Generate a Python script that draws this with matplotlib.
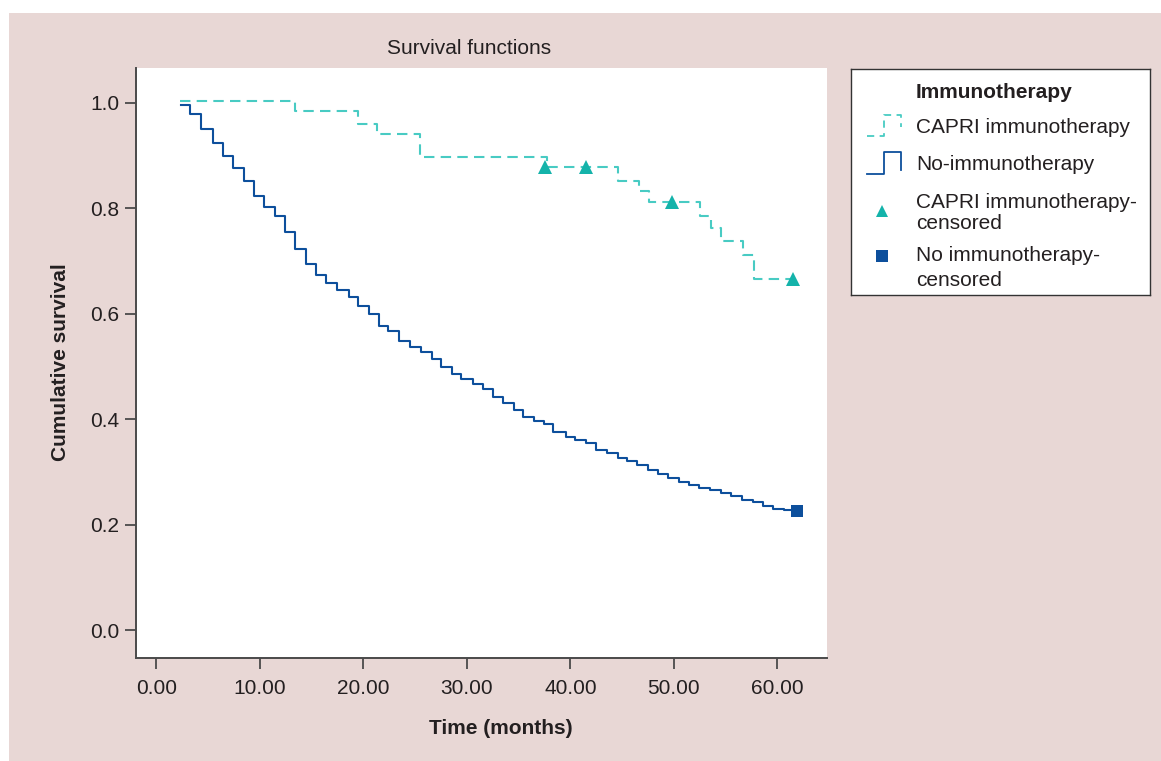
import matplotlib
matplotlib.use('Agg')
import matplotlib.pyplot as plt
from matplotlib.patches import Rectangle

plt.rcParams['font.family'] = ['Liberation Sans', 'DejaVu Sans']

# ---------------- data ----------------
no_immuno_times = [2.38, 3.28, 4.34, 5.44, 6.43, 7.40, 8.46, 9.40, 10.43, 11.49,
                   12.45, 13.36, 14.43, 15.42, 16.39, 17.45, 18.58, 19.45, 20.51, 21.51,
                   22.38, 23.47, 24.53, 25.54, 26.60, 27.53, 28.56, 29.43, 30.56, 31.53,
                   32.49, 33.49, 34.52, 35.39, 36.48, 37.45, 38.35, 39.55, 40.47, 41.51,
                   42.47, 43.54, 44.57, 45.44, 46.43, 47.55, 48.46, 49.46, 50.49, 51.49,
                   52.45, 53.52, 54.55, 55.55, 56.55, 57.61, 58.61, 59.60, 60.61]
no_immuno_surv = [0.995, 0.978, 0.950, 0.923, 0.899, 0.877, 0.852, 0.823, 0.802, 0.785,
                  0.755, 0.722, 0.695, 0.674, 0.658, 0.645, 0.632, 0.615, 0.599, 0.577,
                  0.567, 0.548, 0.536, 0.527, 0.515, 0.499, 0.486, 0.476, 0.466, 0.457,
                  0.442, 0.430, 0.418, 0.405, 0.397, 0.390, 0.376, 0.367, 0.361, 0.354,
                  0.342, 0.335, 0.327, 0.320, 0.313, 0.303, 0.296, 0.289, 0.280, 0.275,
                  0.270, 0.265, 0.260, 0.254, 0.247, 0.242, 0.235, 0.230, 0.227]
no_immuno_end = 61.89
no_immuno_censor_t = [61.89]
no_immuno_censor_s = [0.226]

capri_times = [2.28, 13.36, 19.51, 21.31, 25.47, 37.71, 44.57, 46.63, 47.59,
               52.55, 53.56, 54.58, 56.65, 57.74]
capri_surv = [1.004, 0.985, 0.959, 0.940, 0.898, 0.878, 0.851, 0.832, 0.812,
              0.785, 0.762, 0.738, 0.712, 0.666]
capri_end = 61.54
capri_censor_t = [37.57, 41.51, 49.79, 61.54]
capri_censor_s = [0.878, 0.878, 0.812, 0.666]

x_ticks = [0, 10, 20, 30, 40, 50, 60]
x_ticklabels = ['0.00', '10.00', '20.00', '30.00', '40.00', '50.00', '60.00']
y_ticks = [0.0, 0.2, 0.4, 0.6, 0.8, 1.0]
y_ticklabels = ['0.0', '0.2', '0.4', '0.6', '0.8', '1.0']

title = 'Survival functions'
xlabel = 'Time (months)'
ylabel = 'Cumulative survival'
legend_title = 'Immunotherapy'

# ---------------- style ----------------
W, H = 1161, 761
PINK = '#e8d7d5'
TXT = '#231f20'
AXC = '#4a4a4a'
CYAN_LINE = '#48cbc3'
CYAN_MARK = '#14b3aa'
BLUE = '#0d4f9c'
FS = 15

fig = plt.figure(figsize=(W / 100, H / 100), dpi=100, facecolor='white')
fig.patches.append(Rectangle((9 / W, 0), 1 - 9 / W, (H - 13) / H,
                             transform=fig.transFigure, facecolor=PINK,
                             edgecolor='none', zorder=-10))

def fx(px):
    return px / W

def fy(py):
    return (H - py) / H

ax = fig.add_axes([fx(136), fy(658), (827 - 136) / W, (658 - 68) / H])
ax.set_facecolor('white')
ax.set_xlim(-1.97, 64.8)
ax.set_ylim(-0.053, 1.066)

# step curves
ax.plot(no_immuno_times + [no_immuno_end], no_immuno_surv + [no_immuno_surv[-1]],
        drawstyle='steps-post', color=BLUE, lw=1.5, zorder=3)
ax.plot(capri_times + [capri_end], capri_surv + [capri_surv[-1]],
        drawstyle='steps-post', color=CYAN_LINE, lw=1.5, dashes=(5, 3), zorder=3)
ax.plot(capri_censor_t, capri_censor_s, linestyle='none', marker='^',
        markersize=9.5, color=CYAN_MARK, markeredgewidth=0, zorder=4)
ax.plot(no_immuno_censor_t, no_immuno_censor_s, linestyle='none', marker='s',
        markersize=9, color=BLUE, markeredgewidth=0, zorder=4)

for s in ['top', 'right']:
    ax.spines[s].set_visible(False)
for s in ['left', 'bottom']:
    ax.spines[s].set_color(AXC)
    ax.spines[s].set_linewidth(1.4)

ax.set_xticks(x_ticks)
ax.set_xticklabels(x_ticklabels)
ax.set_yticks(y_ticks)
ax.set_yticklabels(y_ticklabels)
ax.tick_params(axis='x', direction='out', length=8, width=1.3, color=AXC,
               labelsize=FS, labelcolor=TXT, pad=7)
ax.tick_params(axis='y', direction='out', length=8, width=1.3, color=AXC,
               labelsize=FS, labelcolor=TXT, pad=4)

fig.text(fx(469), fy(54), title, ha='center', va='baseline', fontsize=FS, color=TXT)
fig.text(fx(501), fy(734), xlabel, ha='center', va='baseline', fontsize=FS,
         fontweight='bold', color=TXT)
fig.text(fx(60), fy(362), ylabel, ha='center', va='center', rotation=90,
         fontsize=FS, fontweight='bold', color=TXT)

# ---------------- legend (drawn in its own box, pixel coordinates) ----------------
lg = fig.add_axes([fx(851), fy(295), (1150 - 851) / W, (295 - 69) / H])
lg.set_xlim(851, 1150)
lg.set_ylim(295, 69)
lg.set_xticks([])
lg.set_yticks([])
lg.set_facecolor('white')
for s in lg.spines.values():
    s.set_color('#333333')
    s.set_linewidth(1.0)

lg.text(916, 98, legend_title, fontsize=FS, fontweight='bold', color=TXT, va='baseline')
lg.plot([867, 884, 884, 901, 901], [136, 136, 115, 115, 127], color=CYAN_LINE,
        lw=1.3, dashes=(4, 3))
lg.text(916, 133, 'CAPRI immunotherapy', fontsize=FS, color=TXT, va='baseline')
lg.plot([867, 884, 884, 901, 901], [174, 174, 152, 152, 170], color=BLUE, lw=1.3)
lg.text(916, 170, 'No-immunotherapy', fontsize=FS, color=TXT, va='baseline')
lg.plot([882], [211], marker='^', markersize=9, color=CYAN_MARK, markeredgewidth=0,
        linestyle='none')
lg.text(916, 208, 'CAPRI immunotherapy-', fontsize=FS, color=TXT, va='baseline')
lg.text(916, 229, 'censored', fontsize=FS, color=TXT, va='baseline')
lg.plot([882], [256], marker='s', markersize=8.5, color=BLUE, markeredgewidth=0,
        linestyle='none')
lg.text(916, 261, 'No immunotherapy-', fontsize=FS, color=TXT, va='baseline')
lg.text(916, 286, 'censored', fontsize=FS, color=TXT, va='baseline')

fig.savefig('out.png', dpi=100, facecolor=fig.get_facecolor())
